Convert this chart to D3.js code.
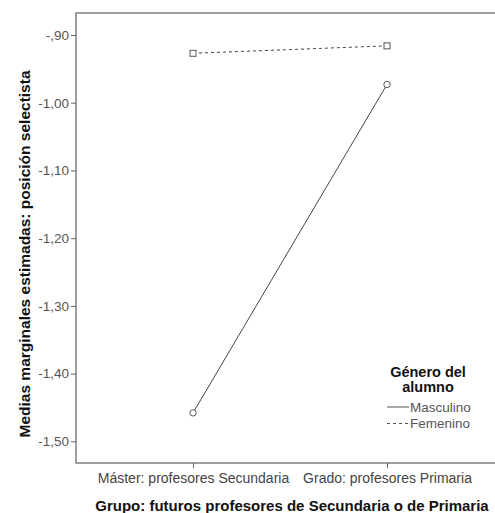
<!DOCTYPE html>
<html>
<head>
<meta charset="utf-8">
<script src="https://cdn.jsdelivr.net/npm/d3@7"></script>
<style>
  body { margin: 0; background: #fff; }
  text { font-family: "Liberation Sans", Arial, sans-serif; }
</style>
</head>
<body>
<svg id="chart" width="495" height="513"></svg>
<script>
const categories = ["Máster: profesores Secundaria", "Grado: profesores Primaria"];
const masculino = [-1.458, -0.973];
const femenino = [-0.927, -0.916];
const yTicks = [-0.9, -1.0, -1.1, -1.2, -1.3, -1.4, -1.5];
const seriesNames = ["Masculino", "Femenino"];

const svg = d3.select("#chart");
const plotL = 76, plotT = 13, plotR = 496, plotB = 463;

const x = d3.scalePoint().domain(categories).range([96, 484]).padding(0.5);
const y = d3.scaleLinear().domain([-1.532, -0.8675]).range([plotB, plotT]);

// SPSS style: hyphen minus, comma decimal, no leading zero
const esLocale = d3.formatLocale({ decimal: ",", thousands: ".", grouping: [3], currency: ["", ""], minus: "-" });
const fmt = d => esLocale.format(".2f")(d).replace(/^(-?)0,/, "$1,");

// frame
svg.append("rect")
  .attr("x", plotL).attr("y", plotT)
  .attr("width", plotR - plotL).attr("height", plotB - plotT)
  .attr("fill", "none").attr("stroke", "#888").attr("stroke-width", 1.6);

const yAxis = svg.append("g")
  .attr("transform", `translate(${plotL},0)`)
  .call(d3.axisLeft(y).tickValues(yTicks).tickSize(5).tickPadding(2).tickFormat(fmt));
yAxis.select(".domain").remove();
yAxis.selectAll("line").attr("stroke", "#666");
yAxis.selectAll("text").attr("fill", "#555").style("font-size", "13.5px");

const xAxis = svg.append("g")
  .attr("transform", `translate(0,${plotB})`)
  .call(d3.axisBottom(x).tickSize(5).tickPadding(5));
xAxis.select(".domain").remove();
xAxis.selectAll("line").attr("stroke", "#666");
xAxis.selectAll("text").attr("fill", "#444").style("font-size", "14px");

// axis titles
svg.append("text")
  .attr("transform", "translate(30,254) rotate(-90)")
  .attr("text-anchor", "middle")
  .style("font-size", "15.5px").style("font-weight", "bold").attr("fill", "#111")
  .text("Medias marginales estimadas: posición selectista");

svg.append("text")
  .attr("x", 292).attr("y", 511)
  .attr("text-anchor", "middle")
  .style("font-size", "15px").style("font-weight", "bold").attr("fill", "#111")
  .text("Grupo: futuros profesores de Secundaria o de Primaria");

const line = d3.line().x((d, i) => x(categories[i])).y(d => y(d));

svg.append("path").datum(masculino)
  .attr("d", line).attr("fill", "none").attr("stroke", "#444").attr("stroke-width", 1);
svg.append("path").datum(femenino)
  .attr("d", line).attr("fill", "none").attr("stroke", "#444").attr("stroke-width", 1)
  .attr("stroke-dasharray", "3,3");

svg.selectAll(".pm").data(masculino).enter().append("circle")
  .attr("cx", (d, i) => x(categories[i])).attr("cy", d => y(d)).attr("r", 3.2)
  .attr("fill", "#fff").attr("stroke", "#555");
svg.selectAll(".pf").data(femenino).enter().append("rect")
  .attr("x", (d, i) => x(categories[i]) - 3).attr("y", d => y(d) - 3)
  .attr("width", 6).attr("height", 6)
  .attr("fill", "#fff").attr("stroke", "#555");

// legend
const lg = svg.append("g");
lg.append("text").attr("x", 428).attr("y", 377).attr("text-anchor", "middle")
  .style("font-size", "14.5px").style("font-weight", "bold").attr("fill", "#111").text("Género del");
lg.append("text").attr("x", 428).attr("y", 392).attr("text-anchor", "middle")
  .style("font-size", "14.5px").style("font-weight", "bold").attr("fill", "#111").text("alumno");
seriesNames.forEach((name, i) => {
  const yy = 407 + i * 16.5;
  lg.append("line").attr("x1", 387).attr("x2", 409).attr("y1", yy).attr("y2", yy)
    .attr("stroke", "#555").attr("stroke-width", 1)
    .attr("stroke-dasharray", i === 1 ? "3,3" : null);
  lg.append("text").attr("x", 410).attr("y", yy + 4.5).attr("fill", "#555")
    .style("font-size", "13.5px").text(name);
});
</script>
</body>
</html>
